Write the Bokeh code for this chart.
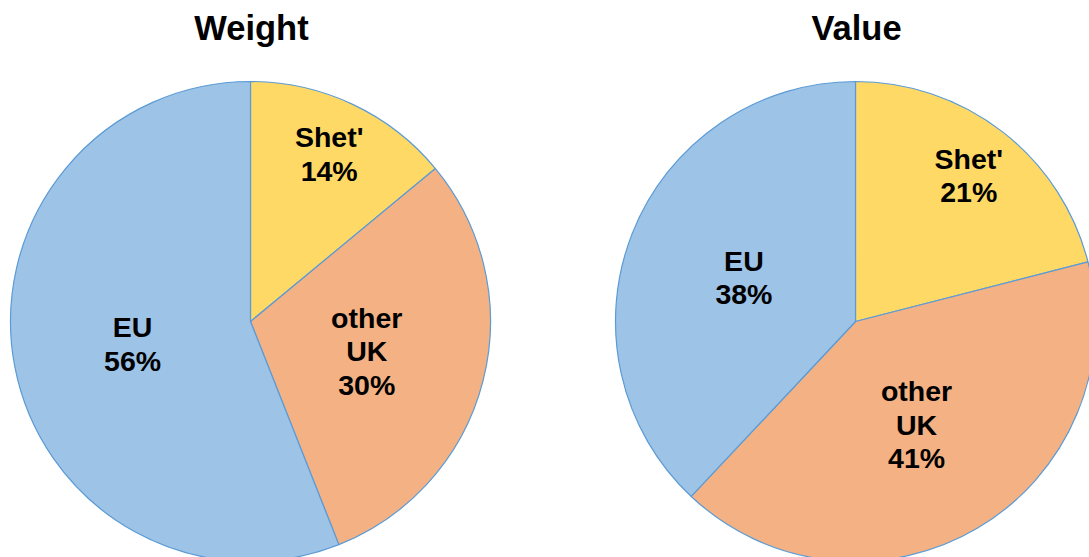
import math
from bokeh.plotting import figure
from bokeh.models import Range1d, ColumnDataSource
from bokeh.core.properties import value
from bokeh.embed import file_html
from bokeh.resources import INLINE

# ---- data ----
categories = ["Shet'", "other\nUK", "EU"]
weight_pct = [14, 30, 56]
value_pct = [21, 41, 38]
titles = ["Weight", "Value"]
colors = ["#FFD966", "#F4B183", "#9DC3E6"]
label_r = [0.77, 0.5, 0.5]

W, H = 1089, 557
p = figure(width=W, height=H, output_backend="svg", toolbar_location=None,
           x_range=Range1d(0, W), y_range=Range1d(0, H), min_border=0)
p.axis.visible = False
p.grid.visible = False
p.outline_line_color = None
p.background_fill_color = "white"
p.border_fill_color = "white"

R = 240
centers = [(250, 236), (855, 236)]
font = value("Liberation Sans")

for (cx, cy), vals, title in zip(centers, [weight_pct, value_pct], titles):
    total = float(sum(vals))
    cum = 0.0
    starts, ends, lx, ly, labels = [], [], [], [], []
    for v, cat, lr in zip(vals, categories, label_r):
        a0 = cum / total
        cum += v
        a1 = cum / total
        # clockwise from top
        starts.append(math.pi / 2 - 2 * math.pi * a1)
        ends.append(math.pi / 2 - 2 * math.pi * a0)
        mid = math.pi / 2 - 2 * math.pi * (a0 + a1) / 2
        lx.append(cx + lr * R * math.cos(mid))
        ly.append(cy + lr * R * math.sin(mid))
        labels.append(f"{cat}\n{v}%")
    src = ColumnDataSource(dict(start=starts, end=ends, color=colors,
                                x=[cx] * 3, y=[cy] * 3))
    p.wedge(x="x", y="y", radius=R, start_angle="start", end_angle="end",
            fill_color="color", line_color="#5B9BD5", line_width=1.2, source=src)
    p.text(x=lx, y=ly, text=labels, text_font=font, text_font_style="bold",
           text_font_size="28.5px", text_align="center", text_baseline="middle",
           text_line_height=1.05, text_color="black")
    p.text(x=[cx + 1], y=[530], text=[title], text_font=font, text_font_style="bold",
           text_font_size="34.5px", text_align="center", text_baseline="middle",
           text_color="black")

open("out.html", "w").write(file_html(p, INLINE))
